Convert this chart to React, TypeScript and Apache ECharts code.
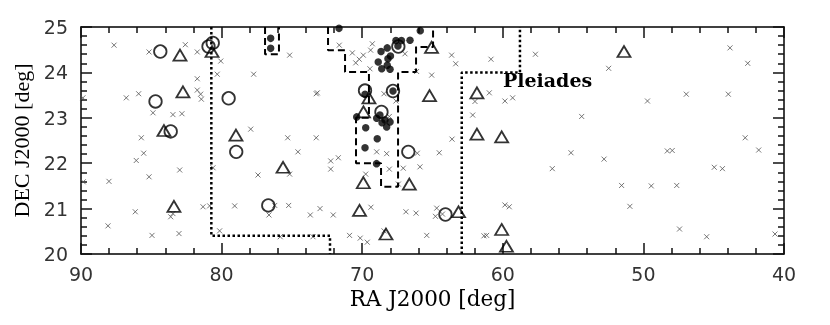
import React, { useEffect, useRef } from "react";
import * as echarts from "echarts";

// RA / DEC ranges and tick settings
const raMin = 40;
const raMax = 90;
const raMajor = 10;
const decMin = 20;
const decMax = 25;
const decMajor = 1;
const minorSplits = 5;

// Small crosses (RA, DEC)
const crosses: [number, number][] = [
  [87.65, 24.6], [85.16, 24.45], [82.58, 24.61], [81.73, 24.45], [80.06, 24.25], [81.73, 23.86], [80.31, 23.96],
  [77.72, 23.96], [75.16, 24.38], [89.86, 23.44], [86.78, 23.44], [85.9, 23.53], [81.73, 23.61], [81.49, 23.52],
  [81.44, 23.41], [84.88, 23.11], [83.46, 23.07], [82.82, 23.09], [85.71, 22.56], [77.93, 22.75], [75.3, 22.56],
  [73.27, 23.53], [73.27, 22.56], [85.54, 22.22], [86.07, 22.06], [82.98, 21.85], [85.16, 21.7], [88.01, 21.6],
  [86.14, 20.93], [88.08, 20.62], [84.95, 20.41], [83.03, 20.45], [83.62, 20.82], [83.46, 20.89], [81.32, 21.04],
  [80.85, 21.06], [80.61, 21.9], [80.14, 20.51], [79.07, 21.06], [77.41, 21.74], [75.16, 21.76], [74.57, 22.25],
  [76.22, 21.07], [76.63, 20.86], [75.23, 21.07], [73.69, 20.86], [75.83, 20.38], [73.5, 20.38], [89.84, 21.59],
  [71.63, 24.6], [70.7, 24.43], [69.92, 24.38], [70.21, 24.29], [70.46, 24.21], [69.28, 24.63], [69.4, 24.49],
  [66.96, 24.41], [69.45, 24.08], [66.13, 24.02], [65.06, 23.94], [63.64, 24.38], [63.35, 24.19], [73.19, 23.55],
  [68.45, 23.53], [67.6, 23.37], [68.07, 23.03], [63.61, 22.53], [68.97, 22.25], [68.26, 22.21], [66.08, 22.22],
  [64.52, 22.23], [72.24, 22.05], [71.7, 22.12], [72.24, 21.87], [68.07, 21.87], [67.08, 21.89], [65.89, 21.92],
  [69.75, 21.76], [67.43, 21.54], [73.0, 21.0], [72.06, 20.86], [69.38, 21.03], [66.89, 20.93], [66.17, 20.9],
  [64.7, 21.01], [64.79, 20.83], [64.29, 20.88], [70.9, 20.41], [70.14, 20.35], [69.64, 20.26], [68.45, 20.51],
  [65.41, 20.41], [60.84, 24.29], [57.68, 24.4], [52.47, 24.09], [43.84, 24.54], [42.58, 24.2], [60.96, 23.55],
  [61.98, 23.36], [59.85, 23.37], [59.3, 23.44], [62.14, 23.06], [54.39, 23.03], [49.71, 23.37], [46.95, 23.52],
  [43.96, 23.52], [42.76, 22.56], [55.15, 22.23], [52.8, 22.09], [56.48, 21.88], [48.3, 22.27], [47.95, 22.28],
  [41.8, 22.29], [44.96, 21.91], [44.38, 21.88], [51.55, 21.51], [49.44, 21.5], [47.63, 21.51], [59.85, 21.08],
  [59.54, 21.04], [50.96, 21.05], [61.34, 20.4], [61.15, 20.41], [47.43, 20.55], [45.5, 20.38], [40.64, 20.44],
];

// Filled dots
const dots: [number, number][] = [
  [76.51, 24.75], [76.51, 24.53], [71.65, 24.97], [65.87, 24.92], [67.6, 24.7], [67.21, 24.7], [66.6, 24.71],
  [67.46, 24.58], [68.22, 24.54], [68.66, 24.46], [67.99, 24.36], [68.17, 24.3], [68.86, 24.23], [68.22, 24.16],
  [68.02, 24.07], [68.61, 24.08], [69.8, 23.52], [67.81, 23.59], [68.97, 22.99], [68.38, 22.95], [68.26, 22.8],
  [70.39, 23.02], [69.75, 22.78], [68.93, 22.54], [69.8, 22.34], [68.98, 21.99], [68.74, 23.06], [68.02, 22.91],
  [68.59, 22.89],
];

// Open circles
const circles: [number, number][] = [
  [84.36, 24.46], [84.7, 23.36], [79.5, 23.43], [80.63, 24.65], [80.93, 24.57], [83.62, 22.7], [78.96, 22.25],
  [76.68, 21.07], [66.72, 22.25], [64.08, 20.87], [67.43, 24.57], [69.8, 23.6], [67.81, 23.59], [68.63, 23.13],
];

// Open triangles
const triangles: [number, number][] = [
  [82.96, 24.38], [80.68, 24.46], [82.75, 23.57], [84.1, 22.72], [78.98, 22.62], [83.39, 21.05], [75.63, 21.91],
  [69.91, 23.13], [69.52, 23.44], [69.92, 21.57], [66.65, 21.54], [70.19, 20.96], [68.31, 20.44], [63.15, 20.93],
  [65.21, 23.49], [65.07, 24.55], [61.84, 23.55], [61.84, 22.64], [60.08, 22.58], [51.38, 24.46], [60.08, 20.54],
  [59.74, 20.17],
];

// Dotted boundaries
const leftBoundary: [number, number][] = [
  [80.73, 25], [80.73, 20.4], [72.29, 20.4], [72.29, 20],
];
const pleiadesBoundary: [number, number][] = [
  [62.92, 20], [62.92, 24.0], [58.78, 24.0], [58.78, 25],
];

// Dashed survey outlines
const smallField: [number, number][] = [
  [76.91, 25], [76.91, 24.4], [75.92, 24.4], [75.92, 25],
];
const mainField: [number, number][] = [
  [72.43, 25], [72.43, 24.49], [71.22, 24.49], [71.22, 24.01], [69.52, 24.01], [69.52, 23.0], [70.44, 23.0],
  [70.44, 22.0], [68.66, 22.0], [68.66, 21.48], [67.45, 21.48], [67.45, 24.01], [66.17, 24.01], [66.17, 24.56],
  [64.96, 24.56], [64.96, 25],
];

const xTitle = "RA J2000 [deg]";
const yTitle = "DEC J2000 [deg]";
const regionLabel = "Pleiades";

export default function App() {
  const ref = useRef<HTMLDivElement>(null);

  useEffect(() => {
    if (!ref.current) return;
    const chart = echarts.init(ref.current, null, { renderer: "svg" });

    const tickLabel = { fontFamily: "DejaVu Sans", fontSize: 19, color: "#333", margin: 10 };
    const axisLine = { show: true, lineStyle: { color: "#000", width: 1.5 } };
    const axisTick = { show: true, inside: true, length: 11, lineStyle: { color: "#111", width: 1.5 } };
    const minorTick = { show: true, splitNumber: minorSplits, length: 6, lineStyle: { color: "#111", width: 1.5 } };

    const openStyle = { color: "rgba(0,0,0,0)", borderColor: "#000", borderWidth: 1.8 };

    chart.setOption({
      animation: false,
      grid: { left: 81, right: 46, top: 27, bottom: 71 },
      xAxis: [
        {
          type: "value", min: raMin, max: raMax, interval: raMajor, inverse: true, position: "bottom",
          axisLine, axisTick, minorTick, splitLine: { show: false },
          axisLabel: tickLabel,
          name: xTitle, nameLocation: "middle", nameGap: 31,
          nameTextStyle: { fontFamily: "DejaVu Serif", fontSize: 21.5, color: "#000" },
        },
        {
          type: "value", min: raMin, max: raMax, interval: raMajor, inverse: true, position: "top",
          axisLine, axisTick, minorTick, splitLine: { show: false }, axisLabel: { show: false },
        },
      ],
      yAxis: [
        {
          type: "value", min: decMin, max: decMax, interval: decMajor, position: "left",
          axisLine, axisTick, minorTick, splitLine: { show: false },
          axisLabel: { ...tickLabel, margin: 13 },
          name: yTitle, nameLocation: "middle", nameGap: 48, nameRotate: 90,
          nameTextStyle: { fontFamily: "Liberation Serif", fontSize: 22, color: "#000" },
        },
        {
          type: "value", min: decMin, max: decMax, interval: decMajor, position: "right",
          axisLine, axisTick, minorTick, splitLine: { show: false }, axisLabel: { show: false },
        },
      ],
      graphic: [
        {
          type: "text", left: 503, top: 70,
          style: { text: regionLabel, font: 'bold 19px "DejaVu Serif"', fill: "#000" },
        },
      ],
      series: [
        { type: "line", data: leftBoundary, symbol: "none", lineStyle: { color: "#000", width: 2.5, type: [2.5, 2.5] } },
        { type: "line", data: pleiadesBoundary, symbol: "none", lineStyle: { color: "#000", width: 2.5, type: [2.5, 2.5] } },
        { type: "line", data: smallField, symbol: "none", lineStyle: { color: "#000", width: 2, type: [7, 4] } },
        { type: "line", data: mainField, symbol: "none", lineStyle: { color: "#000", width: 2, type: [7, 4] } },
        {
          type: "scatter", data: crosses,
          symbol: "path://M0 0L10 10M10 0L0 10", symbolSize: 5,
          itemStyle: { color: "rgba(0,0,0,0)", borderColor: "#555", borderWidth: 1 },
        },
        { type: "scatter", data: dots, symbol: "circle", symbolSize: 7.5, itemStyle: { color: "#000" } },
        { type: "scatter", data: circles, symbol: "circle", symbolSize: 12.5, itemStyle: openStyle },
        { type: "scatter", data: triangles, symbol: "triangle", symbolSize: [13, 11], itemStyle: openStyle },
      ],
    });

    return () => chart.dispose();
  }, []);

  return <div ref={ref} style={{ position: "fixed", left: 0, top: 0, width: 830, height: 325 }} />;
}
